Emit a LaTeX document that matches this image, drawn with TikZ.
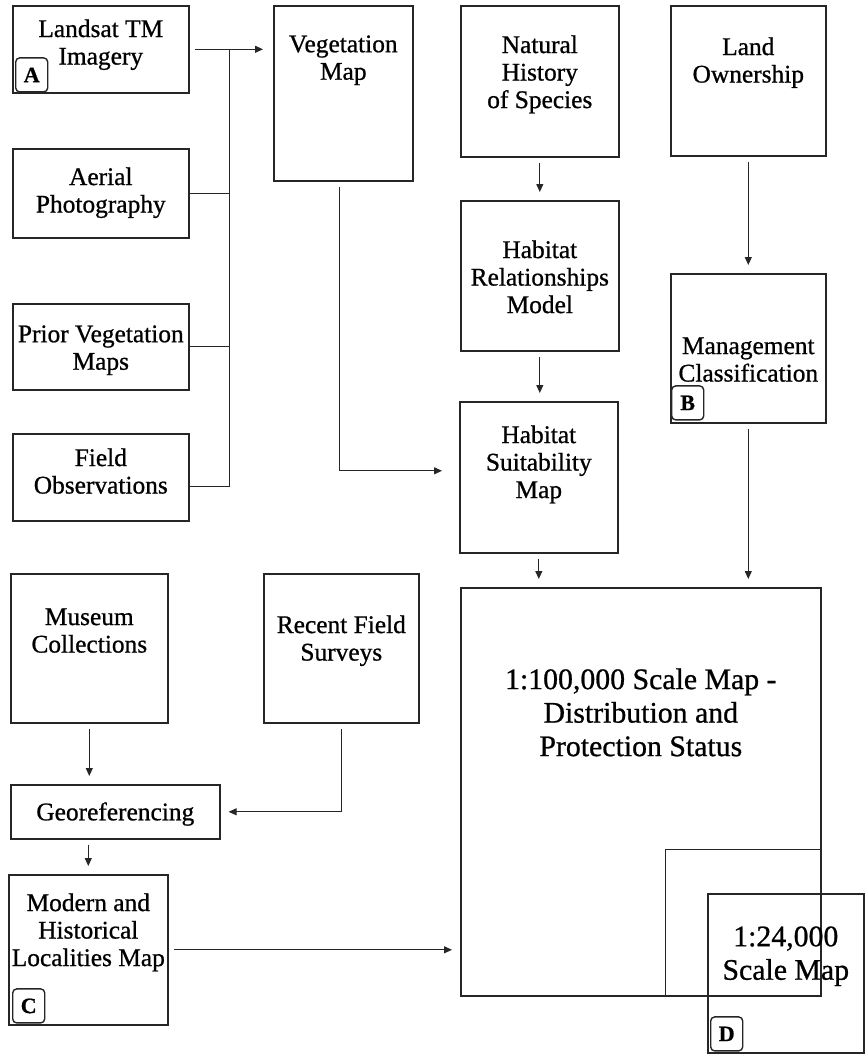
\documentclass[tikz,border=0pt]{standalone}
\usepackage{fontspec}
\setmainfont[FakeBold=0.8]{Liberation Serif}
\usetikzlibrary{arrows.meta}

\begin{document}
\begin{tikzpicture}[x=0.5pt,y=-0.5pt,
  box/.style 2 args={draw=black!85,line width=0.8pt,anchor=north west,inner sep=0pt,
    minimum width=#1*0.5pt,minimum height=#2*0.5pt},
  txt/.style={anchor=north,align=center,inner sep=0pt,font=\fontsize{12.7}{13.75}\selectfont},
  bigtxt/.style={txt,font=\fontsize{14.9}{16.75}\selectfont},
  tag/.style={draw=black!85,line width=0.7pt,rounded corners=2pt,anchor=south west,inner sep=0pt,
    minimum width=16pt,minimum height=17pt,font=\bfseries\fontsize{11}{11}\selectfont},
  link/.style={draw=black!85,line width=0.5pt},
  arr/.style={link,-{Triangle[length=4pt,width=3.5pt]},shorten <=2.5pt,shorten >=4pt}]
\useasboundingbox (0,0) rectangle (864,1055);

\node[box={176}{87},label={[txt,yshift=-7pt]north:{Landsat TM\\Imagery}}] (land) at (12,5) {};
\node[box={176}{89},label={[txt,yshift=-9.5pt]north:{Aerial\\Photography}}] (aerial) at (12,148) {};
\node[box={176}{86},label={[txt,yshift=-11pt]north:{Prior Vegetation\\Maps}}] (prior) at (12,303) {};
\node[box={176}{87},label={[txt,yshift=-7.5pt]north:{Field\\Observations}}] (field) at (12,433) {};
\node[box={139}{175},label={[txt,yshift=-15pt]north:{Vegetation\\Map}}] (veg) at (273,5) {};
\node[box={158}{151},label={[txt,yshift=-15pt]north:{Natural\\History\\of Species}}] (natural) at (460,5) {};
\node[box={155}{150},label={[txt,yshift=-16pt]north:{Land\\Ownership}}] (owner) at (670,5) {};
\node[box={158}{150},label={[txt,yshift=-20pt]north:{Habitat\\Relationships\\Model}}] (hrel) at (460,200) {};
\node[box={155}{149},label={[txt,yshift=-32pt]north:{Management\\Classification}}] (mgmt) at (670,273) {};
\node[box={158}{151},label={[txt,yshift=-12pt]north:{Habitat\\Suitability\\Map}}] (hsuit) at (459,401) {};
\node[box={157}{149},label={[txt,yshift=-17.5pt]north:{Museum\\Collections}}] (museum) at (10,573) {};
\node[box={155}{149},label={[txt,yshift=-21pt]north:{Recent Field\\Surveys}}] (survey) at (263,573) {};
\node[box={209}{54},label={[txt,yshift=-9pt]north:{Georeferencing}}] (georef) at (10,784) {};
\node[box={159}{150},label={[txt,yshift=-9.5pt]north:{Modern and\\Historical\\Localities Map}}] (local) at (8,874) {};
\node[box={360}{408},label={[bigtxt,yshift=-40.5pt]north:{1:100,000 Scale Map -\\Distribution and\\Protection Status}}] (big) at (460,587) {};
\node[box={156}{159},label={[bigtxt,yshift=-16.5pt]north:{1:24,000\\Scale Map}}] (small) at (707,893) {};

\node[tag] (tagA) at ([shift={(3,-1)}]land.south west) {A};
\node[tag] (tagB) at ([shift={(1,-3)}]mgmt.south west) {B};
\node[tag] (tagC) at ([shift={(4,-2)}]local.south west) {C};
\node[tag] (tagD) at ([shift={(3,-2)}]small.south west) {D};

\coordinate (inset) at (665,849);
\draw[link] (inset |- big.south) |- (inset -| big.east);

\coordinate (bus) at (229,0);
\coordinate (fieldout) at ([yshift=-4.75pt]field.east);
\draw[link] (land.east -| bus) -- (fieldout -| bus);
\draw[link] (aerial.east) -- (aerial.east -| bus);
\draw[link] (prior.east) -- (prior.east -| bus);
\draw[link] (fieldout) -- (fieldout -| bus);
\draw[arr,shorten >=5pt] (land.east) -- (land.east -| veg.west);

\coordinate (vegout) at ([xshift=-1.75pt]veg.south);
\coordinate (hsuitin) at ([yshift=3.25pt]hsuit.west);
\draw[arr,shorten >=8.5pt] (vegout) |- (hsuitin);
\draw[arr] (natural.south) -- (hrel.north);
\draw[arr] (owner.south) -- (mgmt.north);
\draw[arr] (hrel.south) -- (hrel.south |- hsuit.north);
\draw[arr] (hsuit.south) -- (hsuit.south |- big.north);
\draw[arr] (mgmt.south) -- (mgmt.south |- big.north);

\draw[arr] (museum.south) -- (museum.south |- georef.north);
\draw[arr] (survey.south) |- (georef.east);
\draw[arr] (georef.south -| local.north) -- (local.north);
\draw[arr] (local.east) -- (local.east -| big.west);
\end{tikzpicture}
\end{document}
